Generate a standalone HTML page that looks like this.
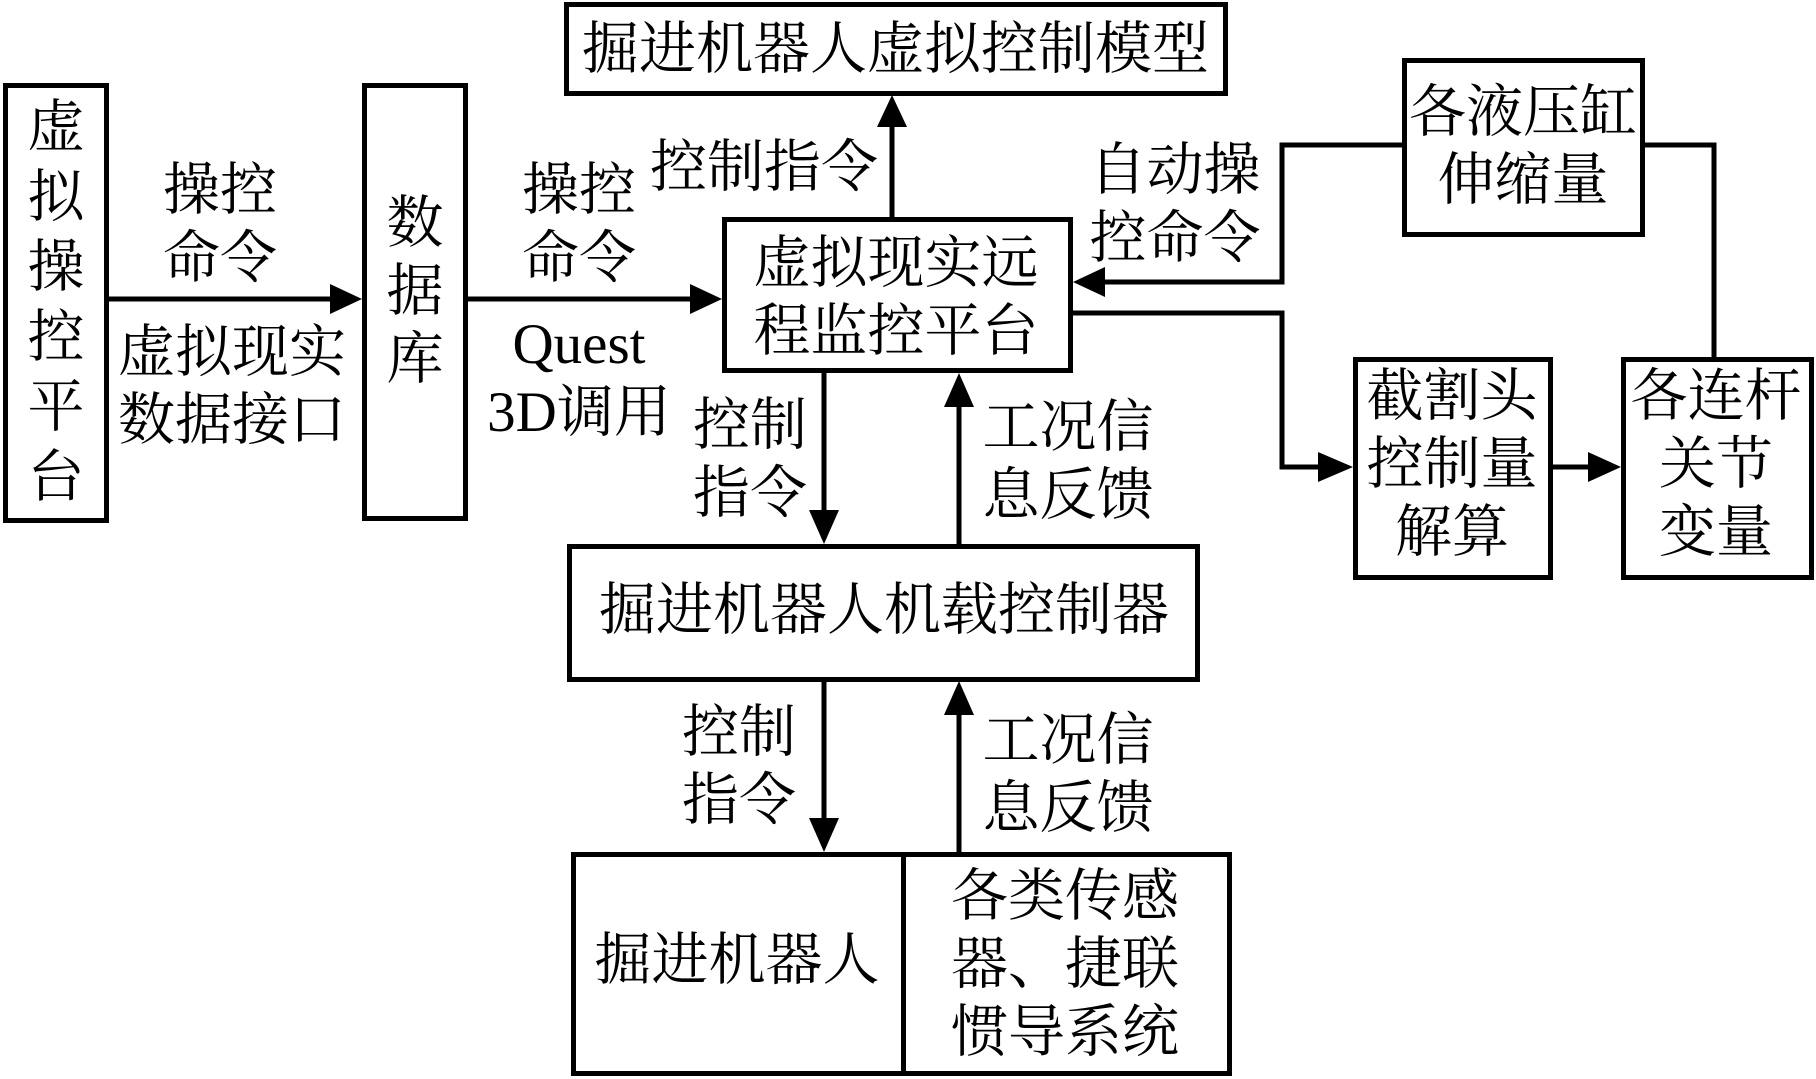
<!DOCTYPE html>
<html><head><meta charset="utf-8"><style>
body{margin:0;width:1816px;height:1079px;background:#fff;position:relative;overflow:hidden;font-family:"Liberation Serif","Noto Serif CJK SC",serif;color:#000}
.t{position:absolute;width:600px;text-align:center;font-size:57px;line-height:68px;white-space:nowrap}
.b{position:absolute;border:5px solid #000;box-sizing:border-box}
</style></head><body>
<svg width="1816" height="1079" style="position:absolute;left:0;top:0">
<g stroke="#000" stroke-width="5" fill="none">
<line x1="108" y1="299" x2="330" y2="299"/>
<path d="M330,284L362,299L330,314z" fill="#000" stroke="none"/>
<line x1="467" y1="299" x2="692" y2="299"/>
<path d="M690,284L722,299L690,314z" fill="#000" stroke="none"/>
<line x1="892" y1="218" x2="892" y2="125"/>
<path d="M877,127L892,95L907,127z" fill="#000" stroke="none"/>
<polyline points="1402,145 1282,145 1282,282 1105,282"/>
<path d="M1105,267L1073,282L1105,297z" fill="#000" stroke="none"/>
<polyline points="1072,313 1282,313 1282,467 1320,467"/>
<path d="M1318,452L1353,467L1318,482z" fill="#000" stroke="none"/>
<line x1="1552" y1="467" x2="1590" y2="467"/>
<path d="M1588,452L1621,467L1588,482z" fill="#000" stroke="none"/>
<polyline points="1645,145 1714,145 1714,357"/>
<line x1="824" y1="373" x2="824" y2="512"/>
<path d="M809,510L824,544L839,510z" fill="#000" stroke="none"/>
<line x1="959" y1="544" x2="959" y2="405"/>
<path d="M944,407L959,373L974,407z" fill="#000" stroke="none"/>
<line x1="824" y1="681" x2="824" y2="820"/>
<path d="M809,818L824,852L839,818z" fill="#000" stroke="none"/>
<line x1="959" y1="852" x2="959" y2="713"/>
<path d="M944,715L959,681L974,715z" fill="#000" stroke="none"/>
</g></svg>
<div class="b" style="left:3px;top:83px;width:106px;height:440px"></div>
<div class="b" style="left:362px;top:83px;width:106px;height:438px"></div>
<div class="b" style="left:564px;top:2px;width:664px;height:94px"></div>
<div class="b" style="left:722px;top:217px;width:351px;height:156px"></div>
<div class="b" style="left:1402px;top:58px;width:243px;height:179px"></div>
<div class="b" style="left:1353px;top:357px;width:200px;height:223px"></div>
<div class="b" style="left:1621px;top:357px;width:193px;height:223px"></div>
<div class="b" style="left:567px;top:544px;width:633px;height:138px"></div>
<div class="b" style="left:571px;top:852px;width:661px;height:224px"></div>
<div style="position:absolute;left:901px;top:852px;width:5px;height:224px;background:#000"></div>

<div class="t" style="left:-244px;top:93px;line-height:70px">虚<br>拟<br>操<br>控<br>平<br>台</div>
<div class="t" style="left:115px;top:190px">数<br>据<br>库</div>
<div class="t" style="left:-80px;top:157px">操控<br>命令</div>
<div class="t" style="left:-68px;top:319px">虚拟现实<br>数据接口</div>
<div class="t" style="left:279px;top:157px">操控<br>命令</div>
<div class="t" style="left:279px;top:311px">Quest<br>3D调用</div>
<div class="t" style="left:582px;top:16px">掘进机器人虚拟控制模型</div>
<div class="t" style="left:464px;top:134px">控制指令</div>
<div class="t" style="left:875px;top:137px">自动操<br>控命令</div>
<div class="t" style="left:596px;top:230px">虚拟现实远<br>程监控平台</div>
<div class="t" style="left:1223px;top:79px">各液压缸<br>伸缩量</div>
<div class="t" style="left:1152px;top:363px">截割头<br>控制量<br>解算</div>
<div class="t" style="left:1416px;top:363px">各连杆<br>关节<br>变量</div>
<div class="t" style="left:450px;top:392px">控制<br>指令</div>
<div class="t" style="left:768px;top:394px">工况信<br>息反馈</div>
<div class="t" style="left:584px;top:577px">掘进机器人机载控制器</div>
<div class="t" style="left:439px;top:699px">控制<br>指令</div>
<div class="t" style="left:768px;top:707px">工况信<br>息反馈</div>
<div class="t" style="left:437px;top:927px">掘进机器人</div>
<div class="t" style="left:765px;top:863px">各类传感<br>器、捷联<br>惯导系统</div>
</body></html>
